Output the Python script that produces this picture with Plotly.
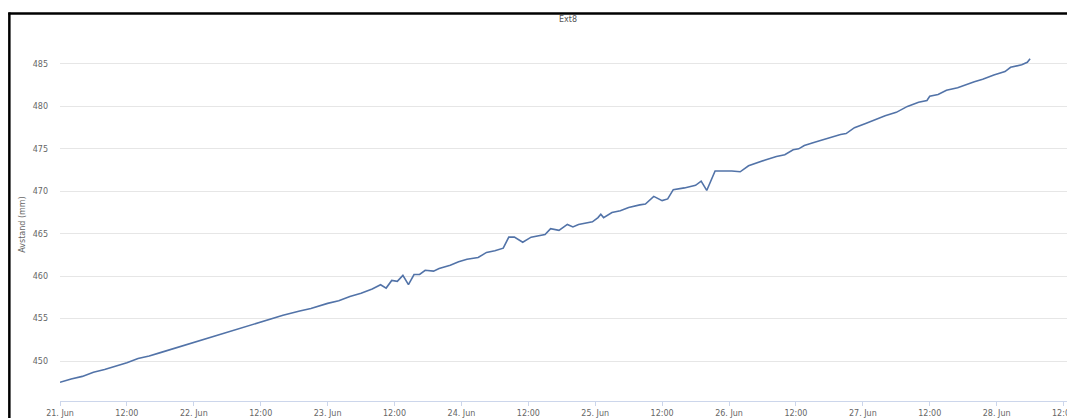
import pandas as pd
import plotly.graph_objects as go

# ---- data ----
start_time = "2015-06-21 00:00"
hours = [0, 2, 4, 6, 8, 10, 12, 14, 16, 18, 20, 22, 24, 26, 28, 30, 32, 34, 36, 38, 40, 43,
         45, 48, 50, 52, 54, 56, 57.5, 58.5, 59.5, 60.5, 61.5, 62.5, 63.5, 64.5, 65.5, 67, 68,
         70, 71.5, 73, 75, 76.5, 78, 79.5, 80.5, 81.5, 83, 84.5, 87, 88, 89.5, 91, 92, 93,
         95.5, 96.5, 97, 97.5, 99, 100.5, 102, 104, 105, 106.5, 108, 109, 110, 112, 114, 115,
         116, 117.5, 120.5, 122, 123.5, 126.5, 128.5, 130, 131.5, 132.5, 133.5, 135.5, 138,
         140, 141, 142.5, 144.5, 146, 148, 150, 152, 154, 155.5, 156, 157.5, 159, 161, 164,
         165.5, 167.5, 169.5, 170.5, 172.5, 173.5, 174]
avstand = [447.5, 447.9, 448.2, 448.7, 449.0, 449.4, 449.8, 450.3, 450.6, 451.0, 451.4, 451.8,
           452.2, 452.6, 453.0, 453.4, 453.8, 454.2, 454.6, 455.0, 455.4, 455.9,
           456.2, 456.8, 457.1, 457.6, 458.0, 458.5, 459.0, 458.6, 459.5, 459.4, 460.1, 459.0,
           460.2, 460.2, 460.7, 460.6, 460.9, 461.3, 461.7, 462.0, 462.2, 462.8, 463.0, 463.3,
           464.6, 464.6, 464.0, 464.6, 464.9, 465.6, 465.4, 466.1, 465.8, 466.1,
           466.4, 466.9, 467.3, 466.9, 467.5, 467.7, 468.1, 468.4, 468.5, 469.4, 468.9, 469.1,
           470.2, 470.4, 470.7, 471.2, 470.1, 472.4, 472.4, 472.3, 473.0, 473.7, 474.1, 474.3,
           474.9, 475.0, 475.4, 475.8, 476.3, 476.7, 476.8, 477.5, 478.0, 478.4, 478.9,
           479.3, 480.0, 480.5, 480.7, 481.2, 481.4, 481.9, 482.2, 482.9, 483.2, 483.7, 484.1,
           484.6, 484.9, 485.2, 485.6]
tick_hours = [0, 12, 24, 36, 48, 60, 72, 84, 96, 108, 120, 132, 144, 156, 168, 180]
tick_labels = ["21. Jun", "12:00", "22. Jun", "12:00", "23. Jun", "12:00", "24. Jun", "12:00",
               "25. Jun", "12:00", "26. Jun", "12:00", "27. Jun", "12:00", "28. Jun", "12:00"]
y_ticks = [450, 455, 460, 465, 470, 475, 480, 485]
title_text = "Ext8"
y_title = "Avstand (mm)"

t0 = pd.Timestamp(start_time)
times = [t0 + pd.Timedelta(hours=h) for h in hours]
tick_times = [t0 + pd.Timedelta(hours=h) for h in tick_hours]

OFF = 8  # page body margin
W, H = 1075 - OFF, 418 - OFF
L, R, T, B = 60 - OFF, 0, 45 - OFF, 16
pw, ph = W - L - R, H - T - B

def px(X):  # screen pixel -> paper
    return (X - OFF - L) / pw

def py(Y):
    return (H - B - (Y - OFF)) / ph

FONT = "DejaVu Sans"

fig = go.Figure()
fig.add_trace(go.Scatter(x=times, y=avstand, mode="lines",
                         line=dict(color="#5273a8", width=1.6), hoverinfo="x+y"))

fig.update_layout(
    width=W, height=H,
    margin=dict(l=L, r=R, t=T, b=B, pad=0),
    paper_bgcolor="white", plot_bgcolor="white",
    showlegend=False,
    font=dict(family=FONT, size=8, color="#666666"),
    xaxis=dict(
        range=[t0, t0 + pd.Timedelta(hours=180.8)],
        tickvals=tick_times, ticktext=tick_labels,
        showgrid=False, zeroline=False,
        showline=True, linecolor="#ccd6eb", linewidth=1,
        ticks="outside", ticklen=4, tickcolor="#ccd6eb",
        tickfont=dict(family=FONT, size=8, color="#666666"),
        ticklabeloverflow="allow",
    ),
    yaxis=dict(
        range=[450 - 40 / 8.514, 485 + 19 / 8.514],
        tickvals=y_ticks,
        showgrid=True, gridcolor="#e6e6e6", gridwidth=1,
        zeroline=False, showline=False, ticks="",
        ticklabelstandoff=11,
        tickfont=dict(family=FONT, size=8, color="#666666"),
    ),
    annotations=[
        dict(text=title_text, x=px(572), y=py(19), xref="paper", yref="paper",
             showarrow=False, font=dict(family=FONT, size=8, color="#555555"),
             xanchor="center", yanchor="middle"),
        dict(text=y_title, x=px(22), y=py(225), xref="paper", yref="paper",
             showarrow=False, textangle=-90, font=dict(family=FONT, size=8, color="#666666"),
             xanchor="center", yanchor="middle"),
    ],
    shapes=[
        dict(type="line", xref="paper", yref="paper", x0=px(8), x1=px(1080),
             y0=py(13.5), y1=py(13.5), line=dict(color="black", width=2.5)),
        dict(type="line", xref="paper", yref="paper", x0=px(9), x1=px(9),
             y0=py(12.5), y1=py(420), line=dict(color="black", width=2.5)),
    ],
)

fig.write_html("out.html")
